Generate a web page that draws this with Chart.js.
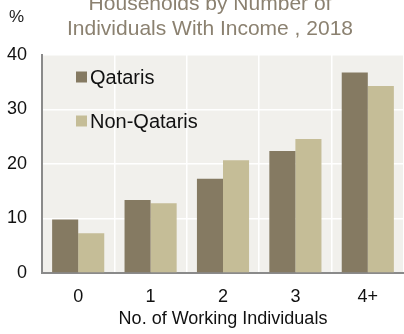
<!DOCTYPE html>
<html>
<head>
<meta charset="utf-8">
<script src="https://cdn.jsdelivr.net/npm/chart.js@4"></script>
<style>
  html, body { margin: 0; padding: 0; background: #ffffff; }
  #wrap { width: 404px; height: 334px; position: relative; }
</style>
</head>
<body>
<div id="wrap"><canvas id="c" width="404" height="334"></canvas></div>
<script>
const categories = ["0", "1", "2", "3", "4+"];
const qataris = [9.8, 13.4, 17.3, 22.4, 36.8];
const nonQataris = [7.3, 12.8, 20.7, 24.6, 34.3];
const seriesLabels = ["Qataris", "Non-Qataris"];
const titleLines = ["Households by Number of", "Individuals With Income , 2018"];
const yUnit = "%";
const xTitle = "No. of Working Individuals";

const FONT = "'Liberation Sans', Arial, sans-serif";
const colQ = "#857a62";
const colN = "#c5bd97";

const bgPlugin = {
  id: 'bg',
  beforeDraw(chart) {
    const {ctx, chartArea: a} = chart;
    ctx.save();
    ctx.fillStyle = '#f1f0ec';
    ctx.fillRect(a.left, a.top, a.right - a.left, a.bottom - a.top);
    ctx.restore();
  }
};

const textPlugin = {
  id: 'texts',
  afterDraw(chart) {
    const {ctx} = chart;
    ctx.save();
    // title
    ctx.fillStyle = '#8b8170';
    ctx.font = "21px " + FONT;
    ctx.textAlign = 'center';
    ctx.textBaseline = 'alphabetic';
    ctx.fillText(titleLines[0], 210, 10);
    ctx.fillText(titleLines[1], 210, 35);
    // unit
    ctx.fillStyle = '#222222';
    ctx.font = "17px " + FONT;
    ctx.textAlign = 'left';
    ctx.fillText(yUnit, 9, 22);
    // legend
    const items = chart.data.datasets;
    const ys = [77, 121];
    ctx.font = "20px " + FONT;
    ctx.textBaseline = 'middle';
    items.forEach((ds, i) => {
      ctx.fillStyle = ds.backgroundColor;
      ctx.fillRect(76, ys[i] - 5.5, 11, 11);
      ctx.fillStyle = '#111111';
      ctx.fillText(ds.label, 90, ys[i] + 1);
    });
    ctx.restore();
  }
};

new Chart(document.getElementById('c'), {
  type: 'bar',
  data: {
    labels: categories,
    datasets: [
      { label: seriesLabels[0], data: qataris, backgroundColor: colQ },
      { label: seriesLabels[1], data: nonQataris, backgroundColor: colN }
    ]
  },
  options: {
    responsive: false,
    animation: false,
    devicePixelRatio: 1,
    layout: { padding: { top: 55, right: 0, left: 0, bottom: 0 } },
    plugins: { legend: { display: false }, title: { display: false }, tooltip: { enabled: false } },
    datasets: { bar: { categoryPercentage: 0.72, barPercentage: 1.0 } },
    scales: {
      x: {
        grid: { color: '#ffffff', lineWidth: 1.5, drawTicks: false, offset: true },
        border: { display: true, color: '#8a8a8a', width: 2 },
        ticks: { color: '#111111', font: { family: FONT, size: 18 }, padding: 13 },
        title: { display: true, text: xTitle, color: '#111111', font: { family: FONT, size: 18 }, padding: { top: 4, bottom: 4 } },
        afterFit(s) { s.height = 61; }
      },
      y: {
        min: 0, max: 40,
        grid: { color: '#ffffff', lineWidth: 1.5, drawTicks: false },
        border: { display: true, color: '#8a8a8a', width: 2 },
        ticks: { stepSize: 10, color: '#111111', font: { family: FONT, size: 18 }, padding: 15 },
        afterFit(s) { s.width = 42; }
      }
    }
  },
  plugins: [bgPlugin, textPlugin]
});
</script>
</body>
</html>
